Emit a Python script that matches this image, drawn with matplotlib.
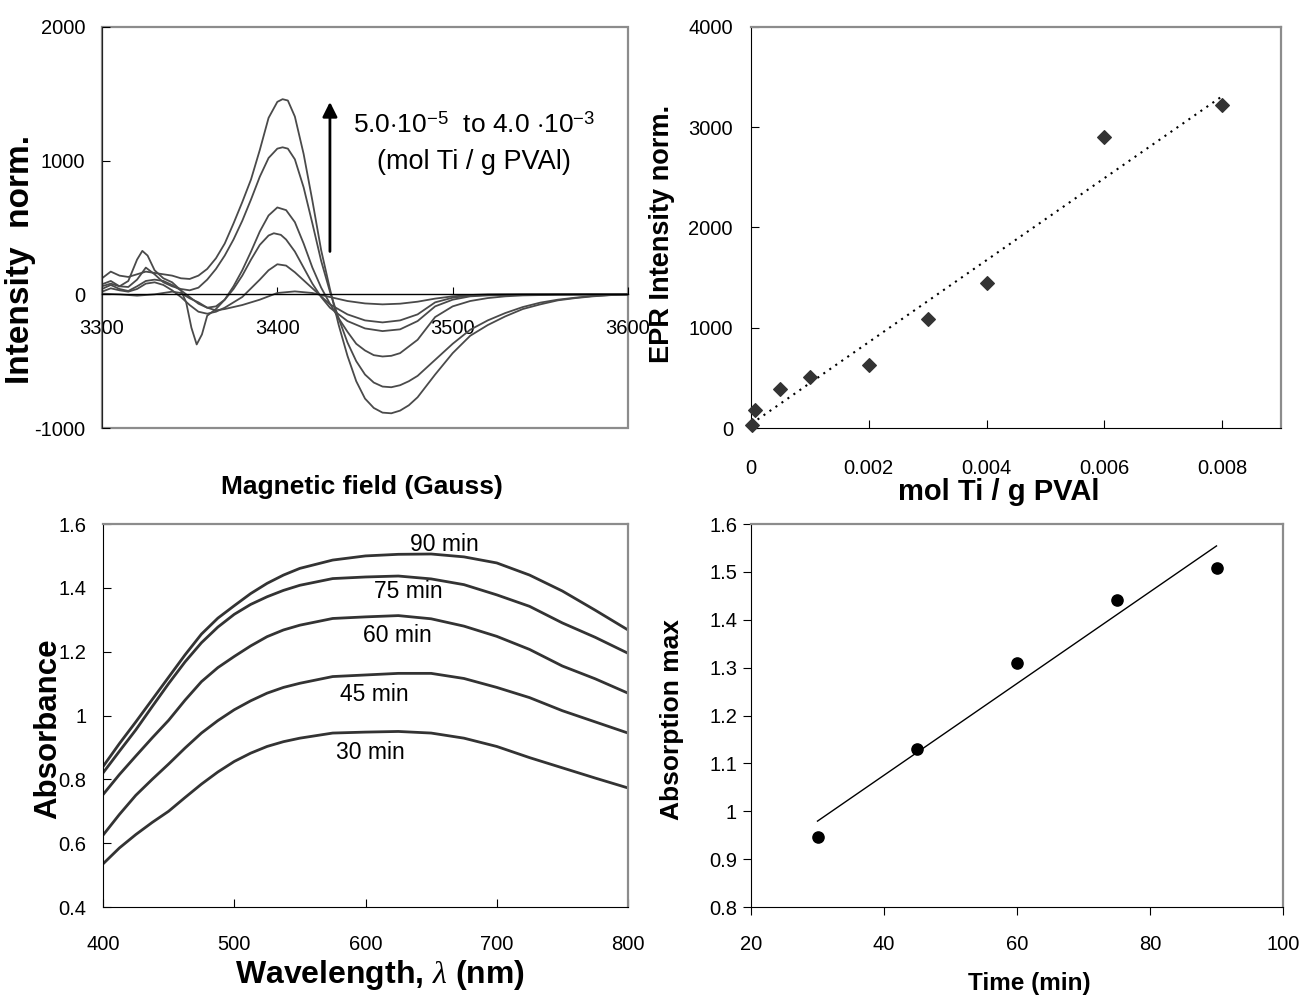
import numpy as np
import matplotlib
matplotlib.use("Agg")
import matplotlib.pyplot as plt

plt.rcParams['font.family'] = ['Liberation Sans', 'DejaVu Sans']
plt.rcParams['font.size'] = 14
plt.rcParams['axes.unicode_minus'] = False
plt.rcParams['mathtext.fontset'] = 'custom'
plt.rcParams['mathtext.rm'] = 'Liberation Sans'
plt.rcParams['mathtext.it'] = 'Liberation Serif:italic'
plt.rcParams['mathtext.bf'] = 'Liberation Sans:bold'

# --- EPR spectra (top left), six Ti loadings, smallest -> largest
field_1 = [3300, 3310, 3320, 3330, 3340, 3345, 3350, 3355, 3360, 3365, 3370, 3380, 3390, 3400, 3410,
           3420, 3430, 3440, 3450, 3460, 3470, 3480, 3490, 3500, 3510, 3520, 3540, 3560, 3580, 3600]
epr_1 = [5, 0, -10, 0, 20, 10, -30, -60, -100, -120, -110, -80, -40, 10, 22,
         10, -20, -50, -68, -75, -70, -55, -32, -15, -5, 0, 0, 0, 0, 0]

field_2 = [3300, 3305, 3310, 3315, 3320, 3325, 3330, 3335, 3340, 3345, 3350, 3355, 3360, 3365, 3370,
           3380, 3390, 3395, 3400, 3405, 3410, 3415, 3420, 3425, 3430,
           3440, 3450, 3460, 3470, 3480, 3490, 3500, 3510, 3520, 3540, 3560, 3580, 3600]
epr_2 = [20, 45, 30, 20, 40, 80, 90, 70, 30, -20, -80, -130, -145, -130, -100,
         -20, 110, 180, 225, 215, 165, 105, 45, -15, -75,
         -150, -195, -210, -195, -150, -60, -25, -10, -4, 0, 0, 0, 0]

field_3 = [3300, 3305, 3310, 3315, 3320, 3325, 3330, 3335, 3340, 3345, 3350, 3355, 3360, 3365, 3370,
           3375, 3380, 3385, 3390, 3395, 3398, 3402, 3405, 3410, 3415, 3420, 3425, 3430,
           3440, 3450, 3460, 3470, 3480, 3490, 3500, 3510, 3520, 3540, 3560, 3580, 3600]
epr_3 = [40, 70, 40, 25, 60, 100, 110, 100, 70, 30, -20, -70, -100, -90, -40,
         40, 140, 260, 370, 440, 457, 445, 410, 320, 200, 80, -20, -100,
         -200, -255, -275, -262, -200, -90, -40, -15, -8, -3, 0, 0, 0]

field_4 = [3300, 3305, 3310, 3315, 3320, 3323, 3326, 3330, 3335, 3340, 3345, 3348, 3351, 3354, 3357,
           3360, 3365, 3370, 3375, 3380, 3385, 3390, 3395, 3400, 3405, 3410, 3415, 3420, 3425,
           3430, 3435, 3440, 3445, 3450, 3455, 3460, 3465, 3470, 3480, 3490, 3500, 3510, 3520,
           3530, 3540, 3560, 3580, 3600]
epr_4 = [60, 80, 60, 100, 260, 325, 290, 180, 120, 90, 30, -60, -250, -375, -300,
         -160, -110, -40, 60, 180, 320, 470, 590, 650, 630, 540, 380, 200, 50,
         -70, -180, -280, -370, -420, -455, -465, -460, -440, -340, -170, -90, -50, -28,
         -15, -8, -3, 0, 0]

field_5 = [3300, 3305, 3310, 3315, 3320, 3325, 3330, 3335, 3340, 3345, 3350, 3355, 3360, 3365, 3370,
           3375, 3380, 3385, 3390, 3395, 3400, 3403, 3406, 3410, 3415, 3420, 3425, 3430, 3435,
           3440, 3445, 3450, 3455, 3460, 3465, 3470, 3475, 3480, 3490, 3500, 3510, 3520, 3530,
           3540, 3550, 3560, 3570, 3580, 3590, 3600]
epr_5 = [75, 100, 60, 55, 110, 200, 150, 90, 60, 40, 30, 50, 110, 190, 290,
         410, 550, 710, 880, 1020, 1090, 1100, 1090, 1010, 800, 530, 250, 20, -180,
         -360, -500, -600, -660, -690, -695, -680, -650, -610, -490, -370, -265, -195, -140,
         -95, -62, -40, -25, -12, -5, 0]

field_6 = field_5
epr_6 = [120, 170, 140, 130, 150, 170, 160, 150, 140, 120, 115, 140, 190, 270, 380,
         530, 690, 860, 1080, 1320, 1440, 1460, 1450, 1330, 1050, 700, 330, 40, -230,
         -460, -650, -780, -850, -885, -890, -870, -830, -770, -600, -440, -310, -230, -165,
         -110, -75, -45, -28, -15, -6, 0]

# --- EPR intensity vs Ti loading (top right)
ti_conc = [0.00001, 0.00006, 0.0005, 0.001, 0.002, 0.003, 0.004, 0.006, 0.008]
epr_int = [25, 180, 390, 510, 630, 1090, 1450, 2900, 3220]

# --- UV-vis spectra (bottom left)
wavelength = [400, 412.5, 425, 437.5, 450, 462.5, 475, 487.5, 500, 512.5, 525, 537.5, 550,
              575, 600, 625, 650, 675, 700, 725, 750, 775, 800]
abs_30 = [0.535, 0.585, 0.627, 0.665, 0.70, 0.743, 0.785, 0.823, 0.856, 0.882, 0.903, 0.918, 0.929,
          0.945, 0.948, 0.95, 0.945, 0.929, 0.903, 0.868, 0.836, 0.804, 0.773]
abs_45 = [0.625, 0.69, 0.75, 0.80, 0.848, 0.898, 0.945, 0.984, 1.018, 1.046, 1.07, 1.088, 1.101,
          1.122, 1.127, 1.132, 1.132, 1.116, 1.088, 1.056, 1.015, 0.98, 0.945]
abs_60 = [0.752, 0.815, 0.873, 0.93, 0.985, 1.048, 1.106, 1.15, 1.185, 1.218, 1.247, 1.268, 1.283,
          1.304, 1.309, 1.313, 1.303, 1.28, 1.248, 1.207, 1.155, 1.115, 1.07]
abs_75 = [0.82, 0.888, 0.955, 1.028, 1.10, 1.168, 1.228, 1.277, 1.317, 1.348, 1.372, 1.392, 1.408,
          1.429, 1.434, 1.437, 1.428, 1.41, 1.378, 1.342, 1.29, 1.245, 1.195]
abs_90 = [0.84, 0.912, 0.98, 1.05, 1.12, 1.19, 1.255, 1.305, 1.344, 1.382, 1.414, 1.44, 1.461,
          1.487, 1.500, 1.505, 1.506, 1.497, 1.478, 1.44, 1.39, 1.33, 1.268]
uv_labels = ['30 min', '45 min', '60 min', '75 min', '90 min']

# --- absorption maximum vs time (bottom right)
time_min = [30, 45, 60, 75, 90]
abs_max = [0.946, 1.129, 1.309, 1.442, 1.508]

W, H = 1306, 996
fig = plt.figure(figsize=(W / 100, H / 100), dpi=100)


def box(l, t, r, b):
    return [l / W, 1 - b / H, (r - l) / W, (b - t) / H]


def ftext(x, y, s, **kw):
    fig.text(x / W, 1 - y / H, s, ha='center', va='center', **kw)


GRAY = '#8c8c8c'

# top left
ax1 = fig.add_axes(box(102, 27, 628, 428))
for f, e in [(field_1, epr_1), (field_2, epr_2), (field_3, epr_3),
             (field_4, epr_4), (field_5, epr_5), (field_6, epr_6)]:
    ax1.plot(f, e, color='#4a4a4a', lw=1.3)
ax1.set_xlim(3300, 3600)
ax1.set_ylim(-1000, 2000)
ax1.set_xticks([3300, 3400, 3500, 3600])
ax1.set_yticks([-1000, 0, 1000, 2000])
ax1.patch.set_edgecolor(GRAY)
ax1.patch.set_linewidth(1.6)
ax1.spines[['top', 'right']].set_visible(False)
ax1.spines['bottom'].set_position(('data', 0))
ax1.spines['bottom'].set_linewidth(1.0)
ax1.spines['left'].set_color('#222222')
ax1.tick_params(axis='y', direction='in', length=6, pad=12, labelsize=14.5)
ax1.tick_params(axis='x', direction='in', length=5, pad=18, labelsize=14.5)
ax1.annotate('', xy=(3430, 1460), xytext=(3430, 300),
             arrowprops=dict(arrowstyle='-|>', color='black', lw=2, mutation_scale=22))
ax1.text(3443, 1266, r'5.0$\cdot$10$^{-5}$  to 4.0 $\cdot$10$^{-3}$', fontsize=19, va='center')
ax1.text(3512, 990, '(mol Ti / g PVAl)', fontsize=19.5, ha='center', va='center')
ftext(21, 260, 'Intensity  norm.', rotation=90, fontsize=24, fontweight='bold')
ftext(362, 487, 'Magnetic field (Gauss)', fontsize=19, fontweight='bold')

# top right
ax2 = fig.add_axes(box(751, 27, 1281, 428))
ax2.scatter(ti_conc, epr_int, marker='D', s=48, color='#333333', zorder=3, clip_on=False)
k, c = np.polyfit(ti_conc, epr_int, 1)
xs = np.array([ti_conc[0], ti_conc[-1]])
ax2.plot(xs, k * xs + c, color='black', lw=1.5, ls=(0, (1, 2.5)))
ax2.set_xlim(0, 0.009)
ax2.set_ylim(0, 4000)
ax2.set_xticks([0, 0.002, 0.004, 0.006, 0.008])
ax2.set_xticklabels(['0', '0.002', '0.004', '0.006', '0.008'])
ax2.set_yticks([0, 1000, 2000, 3000, 4000])
ax2.tick_params(axis='y', direction='in', length=6, pad=13, labelsize=14.5)
ax2.tick_params(axis='x', direction='in', length=6, pad=22, labelsize=14.5)
ax2.spines[['top', 'right']].set_color(GRAY)
ax2.spines[['top', 'right']].set_linewidth(1.6)
ftext(662, 234, 'EPR Intensity norm.', rotation=90, fontsize=19.5, fontweight='bold')
ftext(999, 492, 'mol Ti / g PVAl', fontsize=21, fontweight='bold')

# bottom left
ax3 = fig.add_axes(box(103, 524, 628, 907))
for a in [abs_30, abs_45, abs_60, abs_75, abs_90]:
    ax3.plot(wavelength, a, color='#333333', lw=2.0)
ax3.set_xlim(400, 800)
ax3.set_ylim(0.4, 1.6)
ax3.set_xticks([400, 500, 600, 700, 800])
ax3.set_yticks([0.4, 0.6, 0.8, 1.0, 1.2, 1.4, 1.6])
ax3.set_yticklabels(['0.4', '0.6', '0.8', '1', '1.2', '1.4', '1.6'])
ax3.tick_params(axis='y', direction='in', length=6, pad=12, labelsize=14.5)
ax3.tick_params(axis='x', direction='in', length=6, pad=20, labelsize=14.5)
ax3.spines[['top', 'right']].set_color(GRAY)
ax3.spines[['top', 'right']].set_linewidth(1.6)
label_pos = [(604, 0.883), (607, 1.065), (624, 1.252), (633, 1.39), (660, 1.537)]
for (lx, ly), s in zip(label_pos, uv_labels):
    ax3.text(lx, ly, s, fontsize=16.5, ha='center', va='center')
ftext(48, 729, 'Absorbance', rotation=90, fontsize=22.5, fontweight='bold')
ftext(380, 975, r'Wavelength, $\lambda$ (nm)', fontsize=23, fontweight='bold')

# bottom right
ax4 = fig.add_axes(box(751, 524, 1283, 907))
ax4.scatter(time_min, abs_max, s=65, color='black', zorder=3)
k2, c2 = np.polyfit(time_min, abs_max, 1)
ts = np.array([time_min[0], time_min[-1]])
ax4.plot(ts, k2 * ts + c2, color='black', lw=1.0)
ax4.set_xlim(20, 100)
ax4.set_ylim(0.8, 1.6)
ax4.set_xticks([20, 40, 60, 80, 100])
ax4.set_yticks([0.8, 0.9, 1.0, 1.1, 1.2, 1.3, 1.4, 1.5, 1.6])
ax4.set_yticklabels(['0.8', '0.9', '1', '1.1', '1.2', '1.3', '1.4', '1.5', '1.6'])
ax4.tick_params(axis='y', direction='out', length=6, pad=4, labelsize=14.5)
ax4.tick_params(axis='x', direction='out', length=6, pad=14, labelsize=14.5)
ax4.spines[['top', 'right']].set_color(GRAY)
ax4.spines[['top', 'right']].set_linewidth(1.6)
ftext(672, 720, 'Absorption max', rotation=90, fontsize=19, fontweight='bold')
ftext(1029, 983, 'Time (min)', fontsize=17.5, fontweight='bold')

fig.savefig('out.png', dpi=100)
